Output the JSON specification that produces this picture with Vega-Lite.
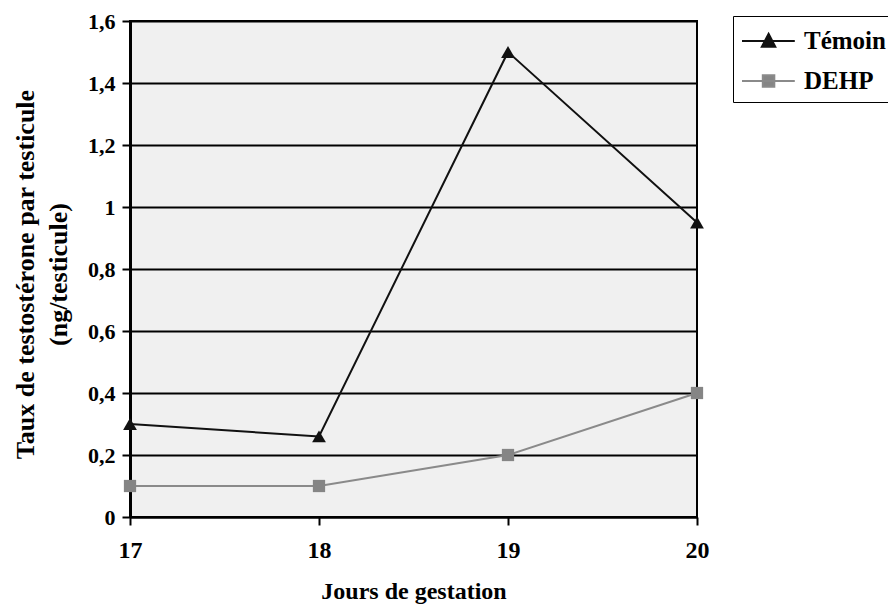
{
  "$schema": "https://vega.github.io/schema/vega-lite/v6.json",
  "width": 567,
  "height": 496,
  "autosize": {"type": "none"},
  "padding": {"left": 130, "top": 21, "right": 191, "bottom": 89},
  "background": "white",
  "config": {
    "view": {"fill": "#f0f0f0", "stroke": "black", "strokeWidth": 2},
    "font": "Liberation Serif",
    "legend": {
      "strokeColor": "black",
      "padding": 8,
      "fillColor": "white",
      "labelFont": "Liberation Serif",
      "labelFontSize": 25,
      "labelFontWeight": "bold",
      "labelColor": "black",
      "labelOffset": 29,
      "rowPadding": 10,
      "symbolSize": 1024,
      "symbolStrokeWidth": 2
    }
  },
  "data": {
    "values": [
      {"jour": 17, "valeur": 0.30, "serie": "Témoin"},
      {"jour": 18, "valeur": 0.26, "serie": "Témoin"},
      {"jour": 19, "valeur": 1.50, "serie": "Témoin"},
      {"jour": 20, "valeur": 0.95, "serie": "Témoin"},
      {"jour": 17, "valeur": 0.10, "serie": "DEHP"},
      {"jour": 18, "valeur": 0.10, "serie": "DEHP"},
      {"jour": 19, "valeur": 0.20, "serie": "DEHP"},
      {"jour": 20, "valeur": 0.40, "serie": "DEHP"}
    ]
  },
  "layer": [
    {
      "transform": [{"filter": "datum.serie === 'DEHP'"}],
      "mark": {"type": "line", "strokeWidth": 2, "color": "#8a8a8a"},
      "encoding": {
        "x": {
          "field": "jour", "type": "quantitative",
          "scale": {"domain": [17, 20], "nice": false, "zero": false},
          "axis": {
            "values": [17, 18, 19, 20], "format": "d",
            "title": "Jours de gestation",
            "grid": false, "tickSize": 8, "tickColor": "black", "tickWidth": 2,
            "domainColor": "black", "domainWidth": 2,
            "labelFont": "Liberation Serif", "labelFontSize": 24, "labelFontWeight": "bold",
            "labelColor": "black", "labelPadding": 13, "labelFlush": false,
            "titleFont": "Liberation Serif", "titleFontSize": 24, "titleFontWeight": "bold",
            "titleColor": "black", "titleX": 283.5, "titleY": 81, "titleBaseline": "alphabetic"
          }
        },
        "y": {
          "field": "valeur", "type": "quantitative",
          "scale": {"domain": [0, 1.6], "nice": false},
          "axis": {
            "values": [0, 0.2, 0.4, 0.6, 0.8, 1, 1.2, 1.4, 1.6],
            "labelExpr": "replace(format(datum.value, '~g'), '.', ',')",
            "title": ["Taux de testostérone par testicule", "(ng/testicule)"],
            "grid": true, "gridColor": "black", "gridWidth": 2, "gridOpacity": 1,
            "tickSize": 8, "tickColor": "black", "tickWidth": 2,
            "domainColor": "black", "domainWidth": 3,
            "labelFont": "Liberation Serif", "labelFontSize": 22, "labelFontWeight": "bold",
            "labelColor": "black", "labelPadding": 7, "labelFlush": false,
            "titleFont": "Liberation Serif", "titleFontSize": 26, "titleFontWeight": "bold",
            "titleColor": "black", "titleX": -97, "titleY": 253, "titleBaseline": "alphabetic",
            "titleLineHeight": 33
          }
        }
      }
    },
    {
      "transform": [{"filter": "datum.serie === 'Témoin'"}],
      "mark": {"type": "line", "strokeWidth": 2, "color": "#111111"},
      "encoding": {
        "x": {"field": "jour", "type": "quantitative"},
        "y": {"field": "valeur", "type": "quantitative"}
      }
    },
    {
      "transform": [{"filter": "datum.serie === 'Témoin'"}],
      "mark": {"type": "point", "shape": "triangle-up", "filled": true, "opacity": 1, "size": 190, "color": "#111111"},
      "encoding": {
        "x": {"field": "jour", "type": "quantitative"},
        "y": {"field": "valeur", "type": "quantitative"}
      }
    },
    {
      "transform": [{"filter": "datum.serie === 'DEHP'"}],
      "mark": {"type": "point", "shape": "square", "filled": true, "opacity": 1, "size": 150, "color": "#858585"},
      "encoding": {
        "x": {"field": "jour", "type": "quantitative"},
        "y": {"field": "valeur", "type": "quantitative"}
      }
    },
    {
      "mark": {"type": "point", "filled": true, "opacity": 1, "clip": true, "strokeWidth": 2},
      "encoding": {
        "x": {"datum": 25, "type": "quantitative"},
        "y": {"field": "valeur", "type": "quantitative"},
        "shape": {
          "field": "serie", "type": "nominal",
          "scale": {
            "domain": ["Témoin", "DEHP"],
            "range": [
              "M-1,0H2.3M0.66,-0.45L1.08,0.36L0.24,0.36Z",
              "M-1,0H2.3M0.3,-0.36H1.02V0.36H0.3Z"
            ]
          },
          "legend": {"title": null, "orient": "none", "legendX": 603, "legendY": -5}
        },
        "fill": {
          "field": "serie", "type": "nominal",
          "scale": {"domain": ["Témoin", "DEHP"], "range": ["#111111", "#858585"]},
          "legend": {"title": null, "orient": "none", "legendX": 603, "legendY": -5}
        },
        "stroke": {
          "field": "serie", "type": "nominal",
          "scale": {"domain": ["Témoin", "DEHP"], "range": ["#111111", "#8a8a8a"]},
          "legend": {"title": null, "orient": "none", "legendX": 603, "legendY": -5}
        }
      }
    }
  ]
}
